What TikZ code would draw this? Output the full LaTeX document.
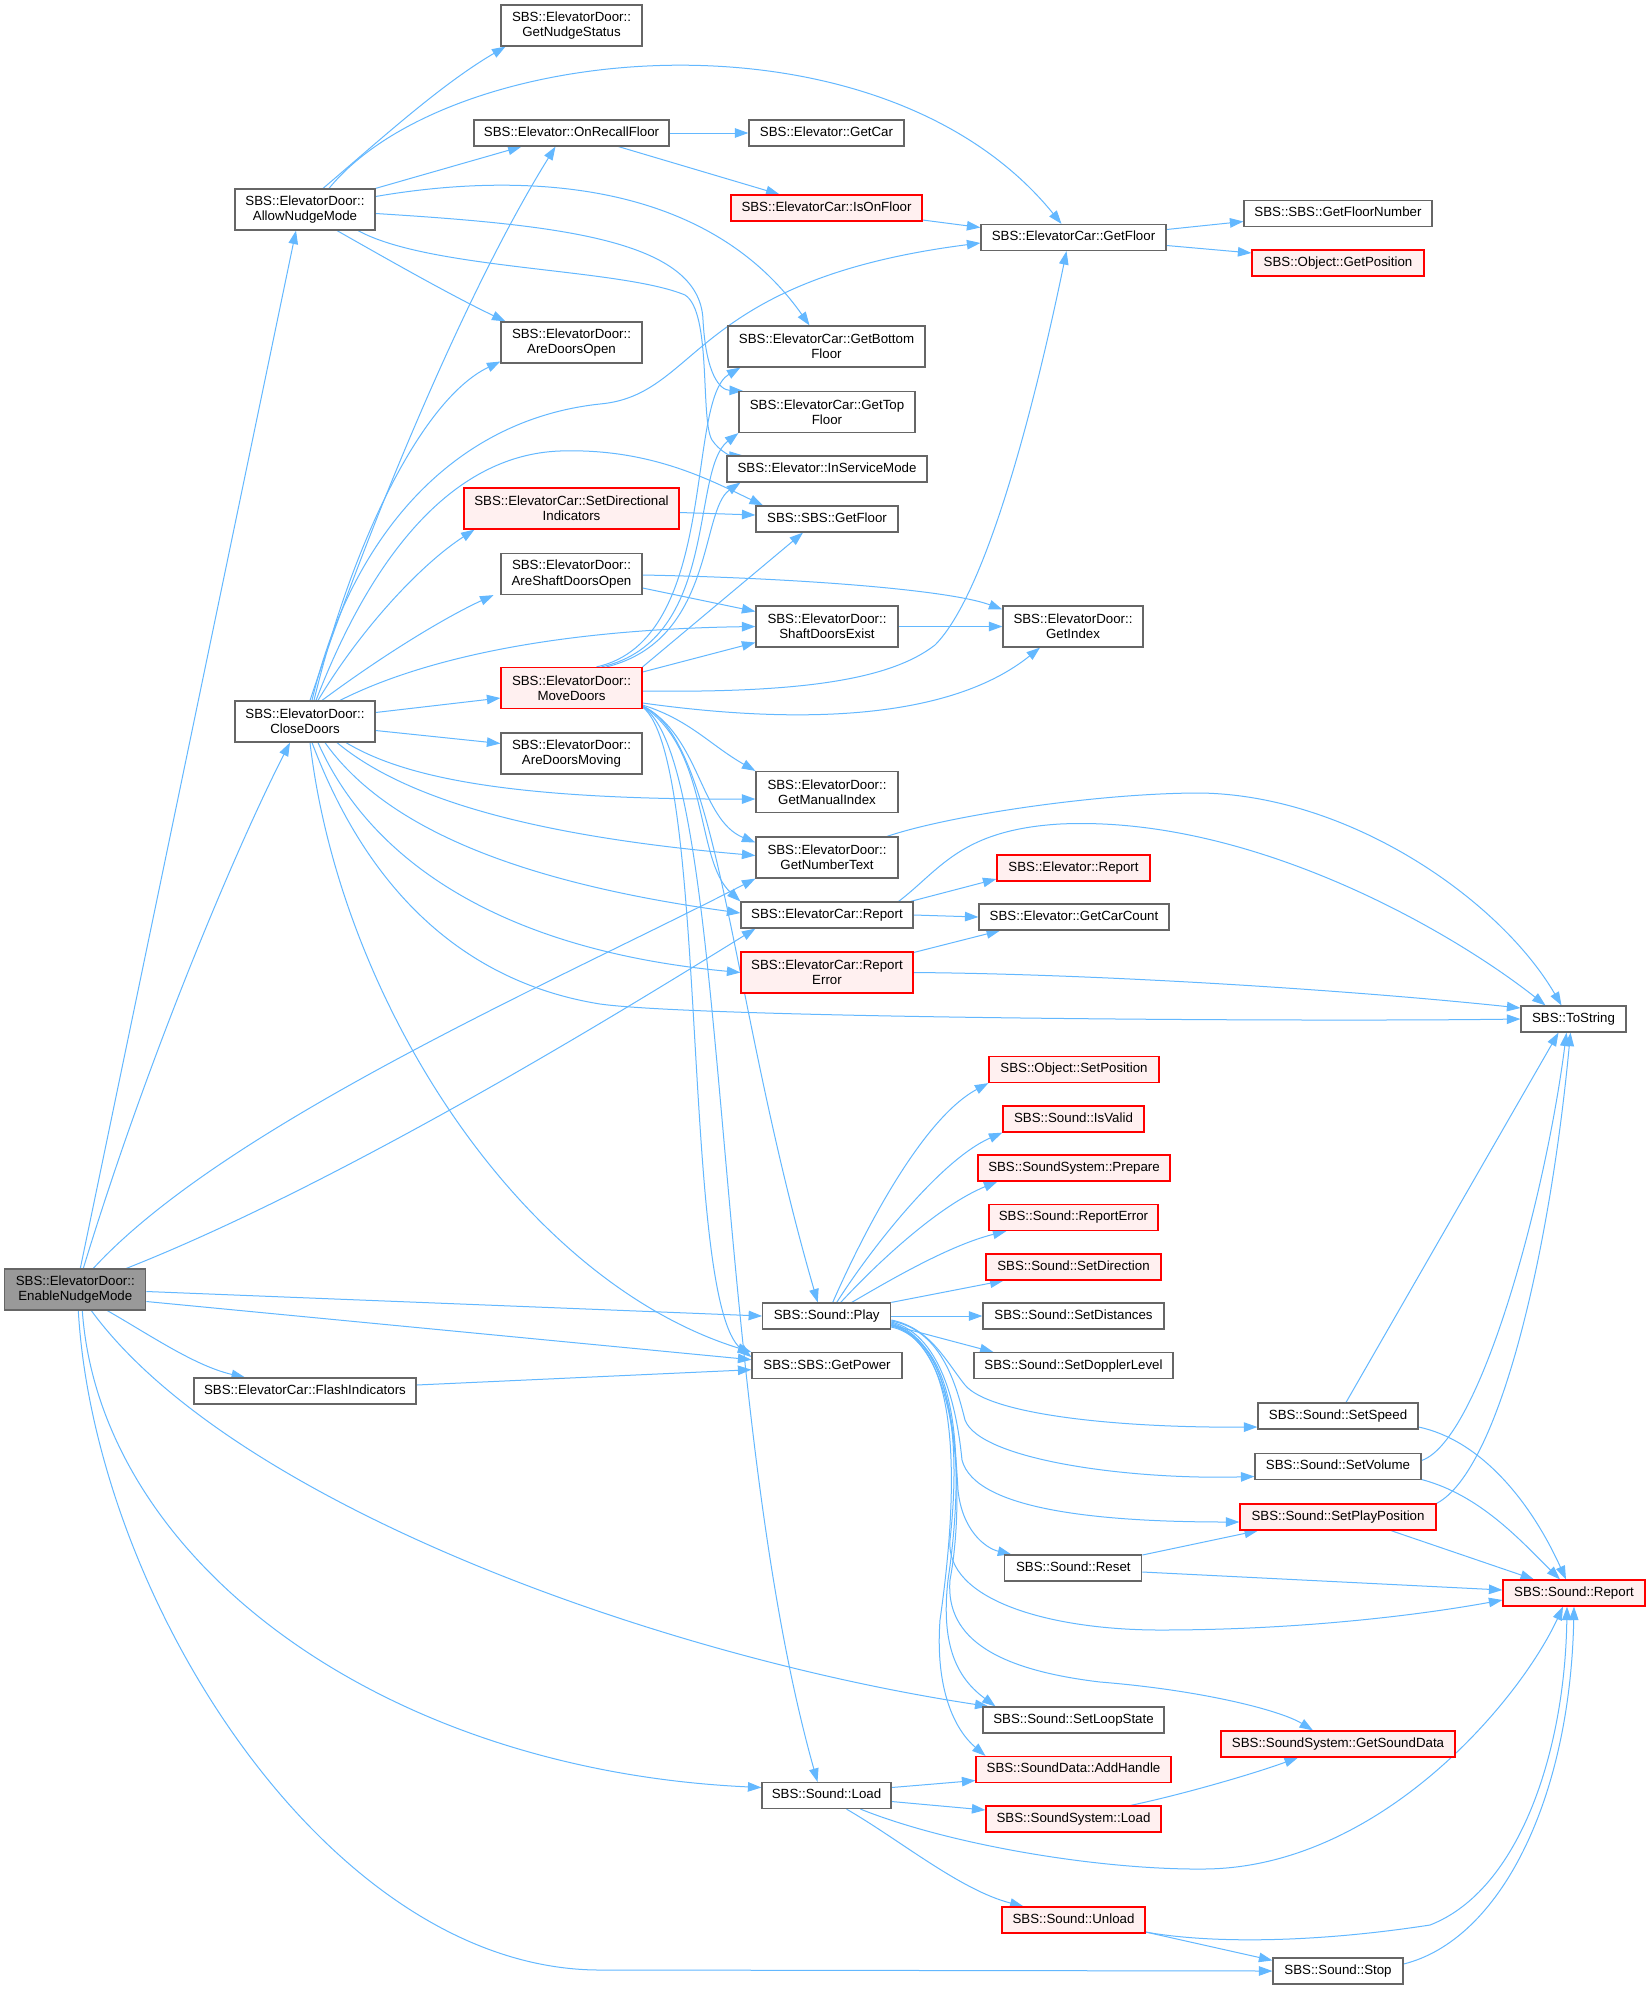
\documentclass[tikz,border=0pt]{standalone}
\usepackage{fontspec}
\setmainfont{Liberation Sans}
\usetikzlibrary{arrows.meta}
\pgfdeclarelayer{bg}
\pgfsetlayers{bg,main}
\definecolor{edgeblue}{HTML}{63B8FF}
\definecolor{boxgray}{HTML}{666666}
\definecolor{redfill}{HTML}{FFF0F0}
\definecolor{rootfill}{HTML}{999999}
\begin{document}
\begin{tikzpicture}[x=1pt,y=-1pt,
  bx/.style={draw=boxgray, line width=1.2pt, fill=white, inner sep=0pt, align=center, font=\fontsize{13.3}{15.2}\selectfont},
  rbx/.style={bx, draw=red, fill=redfill},
  rootbx/.style={bx, fill=rootfill},
  oneln/.style={minimum height=26pt, text height=9.6pt, text depth=2.8pt},
  twoln/.style={minimum height=41pt},
  wd/.style={minimum width=#1pt},
  arr/.style={draw=edgeblue, line width=1pt, -{Triangle[length=13.5pt,width=9.5pt]}},
]
\useasboundingbox (0,0) rectangle (1646,1989);
\begin{pgfonlayer}{bg}
\fill[white] (0,0) rectangle (1646,1989);
\end{pgfonlayer}

\node[bx,twoln,wd=141] (gns) at (571.5,25.5) {SBS::ElevatorDoor::\\GetNudgeStatus};
\node[bx,twoln,wd=140] (anm) at (305,209.5) {SBS::ElevatorDoor::\\AllowNudgeMode};
\node[bx,oneln,wd=195] (orf) at (571.5,133) {SBS::Elevator::OnRecallFloor};
\node[bx,oneln,wd=155] (gcar) at (826.5,133) {SBS::Elevator::GetCar};
\node[rbx,oneln,wd=191] (iof) at (826.5,208) {SBS::ElevatorCar::IsOnFloor};
\node[bx,oneln,wd=185] (ecgf) at (1073.5,237.5) {SBS::ElevatorCar::GetFloor};
\node[bx,oneln,wd=188] (gfn) at (1338,213.5) {SBS::SBS::GetFloorNumber};
\node[rbx,oneln,wd=172] (gpos) at (1338,263) {SBS::Object::GetPosition};
\node[bx,twoln,wd=141] (ado) at (571.5,342.5) {SBS::ElevatorDoor::\\AreDoorsOpen};
\node[bx,twoln,wd=197] (gbf) at (826.5,346.5) {SBS::ElevatorCar::GetBottom\\Floor};
\node[bx,twoln,wd=176] (gtf) at (827,412) {SBS::ElevatorCar::GetTop\\Floor};
\node[bx,oneln,wd=200] (ism) at (827,469) {SBS::Elevator::InServiceMode};
\node[bx,oneln,wd=142] (sgf) at (827,519) {SBS::SBS::GetFloor};
\node[rbx,twoln,wd=215] (sdi) at (571.5,508.5) {SBS::ElevatorCar::SetDirectional\\Indicators};
\node[bx,twoln,wd=141] (asdo) at (571.5,574) {SBS::ElevatorDoor::\\AreShaftDoorsOpen};
\node[bx,twoln,wd=142] (sde) at (827,626.5) {SBS::ElevatorDoor::\\ShaftDoorsExist};
\node[bx,twoln,wd=140] (gidx) at (1073,626.5) {SBS::ElevatorDoor::\\GetIndex};
\node[rbx,twoln,wd=141] (md) at (571.5,688) {SBS::ElevatorDoor::\\MoveDoors};
\node[bx,twoln,wd=140] (cd) at (305,721.5) {SBS::ElevatorDoor::\\CloseDoors};
\node[bx,twoln,wd=141] (adm) at (571.5,753.5) {SBS::ElevatorDoor::\\AreDoorsMoving};
\node[bx,twoln,wd=142] (gmi) at (827,792) {SBS::ElevatorDoor::\\GetManualIndex};
\node[bx,twoln,wd=142] (gnt) at (827,857.5) {SBS::ElevatorDoor::\\GetNumberText};
\node[bx,oneln,wd=172] (ecr) at (827,915) {SBS::ElevatorCar::Report};
\node[rbx,twoln,wd=172] (ecre) at (827,972.5) {SBS::ElevatorCar::Report\\Error};
\node[rbx,oneln,wd=153] (er) at (1073.5,868) {SBS::Elevator::Report};
\node[bx,oneln,wd=190] (gcc) at (1074,917) {SBS::Elevator::GetCarCount};
\node[bx,oneln,wd=105] (ts) at (1573.5,1019) {SBS::ToString};
\node[rbx,oneln,wd=170] (ospos) at (1074,1069.5) {SBS::Object::SetPosition};
\node[rbx,oneln,wd=141] (isv) at (1073.5,1119) {SBS::Sound::IsValid};
\node[rbx,oneln,wd=192] (prep) at (1074,1168) {SBS::SoundSystem::Prepare};
\node[rbx,oneln,wd=169] (sre) at (1073.5,1217.5) {SBS::Sound::ReportError};
\node[rbx,oneln,wd=175] (sdir) at (1073.5,1267) {SBS::Sound::SetDirection};
\node[bx,oneln,wd=181] (sdist) at (1073.5,1316) {SBS::Sound::SetDistances};
\node[bx,oneln,wd=128] (play) at (826.7,1316) {SBS::Sound::Play};
\node[rootbx,twoln,wd=141] (enm) at (75.3,1289.5) {SBS::ElevatorDoor::\\EnableNudgeMode};
\node[bx,oneln,wd=150] (gp) at (827,1365.7) {SBS::SBS::GetPower};
\node[bx,oneln,wd=199] (sdl) at (1073.5,1365.7) {SBS::Sound::SetDopplerLevel};
\node[bx,oneln,wd=222] (fi) at (305,1391) {SBS::ElevatorCar::FlashIndicators};
\node[bx,oneln,wd=160] (ssp) at (1338,1416) {SBS::Sound::SetSpeed};
\node[bx,oneln,wd=166] (svol) at (1338,1466.5) {SBS::Sound::SetVolume};
\node[rbx,oneln,wd=196] (spp) at (1338,1517) {SBS::Sound::SetPlayPosition};
\node[bx,oneln,wd=137] (rst) at (1073.3,1568) {SBS::Sound::Reset};
\node[rbx,oneln,wd=142] (srep) at (1574,1593) {SBS::Sound::Report};
\node[bx,oneln,wd=181] (sls) at (1073.5,1720) {SBS::Sound::SetLoopState};
\node[rbx,oneln,wd=234] (gsd) at (1338,1744) {SBS::SoundSystem::GetSoundData};
\node[rbx,oneln,wd=195] (ah) at (1073.5,1769.5) {SBS::SoundData::AddHandle};
\node[bx,oneln,wd=129] (load) at (826.5,1795.5) {SBS::Sound::Load};
\node[rbx,oneln,wd=175] (ssl) at (1073.5,1819) {SBS::SoundSystem::Load};
\node[rbx,oneln,wd=143] (unl) at (1073.5,1920) {SBS::Sound::Unload};
\node[bx,oneln,wd=130] (stop) at (1338,1971) {SBS::Sound::Stop};

\begin{pgfonlayer}{bg}
% EnableNudgeMode
\draw[arr] ([xshift=5pt]enm.north) -- ([xshift=-9pt]anm.south);
\draw[arr] ([xshift=8pt]enm.north) .. controls (150,1050) and (240,840) .. ([xshift=-15pt]cd.south);
\draw[arr] ([xshift=18pt]enm.north) .. controls (225,1125) and (556,981) .. (gnt.south west);
\draw[arr] ([xshift=51pt]enm.north) .. controls (350,1180) and (640,1000) .. ([xshift=15pt]ecr.south west);
\draw[arr] ([yshift=-2pt]enm.east) -- (play.west);
\draw[arr] ([yshift=-12pt]enm.east) -- ([yshift=6pt]gp.west);
\draw[arr] ([xshift=32pt]enm.south) .. controls (150,1335) and (195,1366) .. ([xshift=-60pt]fi.north);
\draw[arr] ([xshift=16pt]enm.south) .. controls (230,1500) and (650,1655) .. ([xshift=-85pt]sls.north);
\draw[arr] ([xshift=7pt]enm.south) .. controls (100,1560) and (380,1770) .. ([yshift=8pt]load.west);
\draw[arr] ([xshift=3pt]enm.south) .. controls (95,1600) and (330,1970) .. (600,1970) -- (stop.west);
% AllowNudgeMode
\draw[arr] ([xshift=18pt]anm.north) .. controls (380,140) and (440,85) .. ([xshift=-66pt]gns.south);
\draw[arr] ([xshift=24pt]anm.north) .. controls (450,40) and (880,0) .. ([xshift=-12pt]ecgf.north);
\draw[arr] (anm.north east) -- ([xshift=-50pt]orf.south);
\draw[arr] ([yshift=13pt]anm.east) .. controls (500,175) and (700,170) .. ([xshift=-17pt]gbf.north);
\draw[arr] ([yshift=-4pt]anm.east) .. controls (560,225) and (700,240) .. (703,320) .. controls (706,375) and (720,390) .. ([xshift=-84pt]gtf.north);
\draw[arr] ([xshift=53pt]anm.south) .. controls (430,270) and (620,268) .. (685,295) .. controls (712,312) and (700,420) .. (712,440) .. controls (720,452) and (732,456) .. ([xshift=-84pt]ism.north);
\draw[arr] ([xshift=32pt]anm.south) .. controls (380,255) and (450,295) .. ([xshift=-66pt]ado.north);
% OnRecallFloor, IsOnFloor, GetFloor
\draw[arr] (orf) -- (gcar);
\draw[arr] ([xshift=47pt]orf.south) -- ([xshift=-47pt]iof.north);
\draw[arr] ([yshift=-12pt]iof.east) -- ([yshift=10pt]ecgf.west);
\draw[arr] ([yshift=8pt]ecgf.east) -- ([yshift=-8pt]gfn.west);
\draw[arr] ([yshift=-8pt]ecgf.east) -- ([yshift=10pt]gpos.west);
% SetDirectionalIndicators, AreShaftDoorsOpen, ShaftDoorsExist
\draw[arr] ([yshift=-4pt]sdi.east) -- ([yshift=4pt]sgf.west);
\draw[arr] ([yshift=-1pt]asdo.east) .. controls (800,578) and (950,590) .. ([yshift=17pt]gidx.west);
\draw[arr] ([yshift=-14pt]asdo.east) -- ([yshift=15pt]sde.west);
\draw[arr] (sde) -- (gidx);
% MoveDoors
\draw[arr] ([xshift=25pt]md.north) .. controls (720,640) and (685,400) .. ([xshift=13pt]gbf.south west);
\draw[arr] ([xshift=30pt]md.north) .. controls (720,640) and (690,470) .. (gtf.south west);
\draw[arr] ([xshift=35pt]md.north) .. controls (715,640) and (700,510) .. ([xshift=14pt]ism.south west);
\draw[arr] (md.north east) -- ([xshift=-24pt]sgf.south);
\draw[arr] ([yshift=16pt]md.east) -- ([yshift=-16pt]sde.west);
\draw[arr] ([yshift=-3pt]md.east) .. controls (800,693) and (890,680) .. (935,645) .. controls (990,590) and (1040,380) .. ([xshift=-7pt]ecgf.south);
\draw[arr] ([yshift=-15pt]md.east) .. controls (800,725) and (950,720) .. ([xshift=-33pt]gidx.south);
\draw[arr] ([yshift=-17pt]md.east) .. controls (690,720) and (710,745) .. (gmi.north west);
\draw[arr] ([yshift=-18pt]md.east) .. controls (700,735) and (700,820) .. ([yshift=15pt]gnt.west);
\draw[arr] ([yshift=-18pt]md.east) .. controls (710,750) and (695,860) .. (ecr.north west);
\draw[arr] ([yshift=-18pt]md.east) .. controls (720,740) and (730,1000) .. ([xshift=-9pt]play.north);
\draw[arr] ([yshift=-19pt]md.east) .. controls (710,760) and (680,1300) .. ([yshift=-5pt]gp.north west);
\draw[arr] ([yshift=-19pt]md.east) .. controls (730,760) and (710,1400) .. ([xshift=-9pt]load.north);
% CloseDoors
\draw[arr] ([xshift=5pt]cd.north) .. controls (360,550) and (460,300) .. ([xshift=-16pt]orf.south);
\draw[arr] ([xshift=7pt]cd.north) .. controls (350,540) and (450,420) .. (600,404) .. controls (700,395) and (690,280) .. ([yshift=-5.5pt]ecgf.west);
\draw[arr] ([xshift=9pt]cd.north) .. controls (350,550) and (420,400) .. ([yshift=-19pt]ado.west);
\draw[arr] ([xshift=11pt]cd.north) .. controls (370,560) and (450,455) .. (560,451) .. controls (650,448) and (710,480) .. ([xshift=-64pt]sgf.north);
\draw[arr] ([xshift=13pt]cd.north) .. controls (360,630) and (420,565) .. ([xshift=-97pt]sdi.south);
\draw[arr] ([xshift=17pt]cd.north) .. controls (390,650) and (450,615) .. ([xshift=-78pt]asdo.south);
\draw[arr] ([xshift=35pt]cd.north) .. controls (400,670) and (520,630) .. (sde.west);
\draw[arr] ([yshift=9pt]cd.east) -- ([yshift=-10pt]md.west);
\draw[arr] ([yshift=-9pt]cd.east) -- ([yshift=10pt]adm.west);
\draw[arr] ([xshift=41pt]cd.south) .. controls (400,775) and (500,800) .. ([yshift=-7pt]gmi.west);
\draw[arr] ([xshift=32pt]cd.south) .. controls (400,795) and (520,835) .. ([yshift=2pt]gnt.west);
\draw[arr] ([xshift=20pt]cd.south) .. controls (380,820) and (500,880) .. ([yshift=2pt]ecr.west);
\draw[arr] ([xshift=13pt]cd.south) .. controls (370,860) and (500,950) .. (ecre.west);
\draw[arr] ([xshift=7pt]cd.south) .. controls (345,830) and (420,975) .. (600,1004) .. controls (700,1018) and (1300,1022) .. (ts.west);
\draw[arr] ([xshift=5pt]cd.south) .. controls (340,1000) and (520,1280) .. (gp.north west);
% Report family
\draw[arr] ([xshift=-3pt]ecr.north east) -- ([yshift=-11pt]er.west);
\draw[arr] (ecr.east) -- (gcc.west);
\draw[arr] ([xshift=-15pt]ecr.north east) .. controls (940,870) and (960,830) .. (1060,824) .. controls (1250,815) and (1450,930) .. ([xshift=-28pt]ts.north);
\draw[arr] ([xshift=60pt]gnt.north) .. controls (950,815) and (1100,793) .. (1200,793) .. controls (1350,795) and (1500,900) .. ([xshift=-12pt]ts.north);
\draw[arr] ([yshift=20pt]ecre.east) -- ([xshift=-74pt]gcc.south);
\draw[arr] (ecre.east) .. controls (1100,974) and (1350,990) .. ([yshift=11pt]ts.west);
% Play
\draw[arr] ([xshift=6pt]play.north) .. controls (860,1240) and (920,1120) .. (ospos.south west);
\draw[arr] ([xshift=10pt]play.north) .. controls (870,1250) and (940,1160) .. (isv.south west);
\draw[arr] ([xshift=14pt]play.north) .. controls (880,1260) and (940,1205) .. ([xshift=20pt]prep.south west);
\draw[arr] ([xshift=25pt]play.north) .. controls (890,1280) and (950,1245) .. ([xshift=18pt]sre.south west);
\draw[arr] (play.north east) -- ([xshift=-70pt]sdir.south);
\draw[arr] (play) -- (sdist);
\draw[arr] ([yshift=-9pt]play.east) -- ([xshift=-80pt]sdl.north);
\draw[arr] ([yshift=-4pt]play.east) .. controls (930,1328) and (945,1360) .. (965,1385) .. controls (990,1415) and (1120,1428) .. ([yshift=-11pt]ssp.west);
\draw[arr] ([yshift=-5pt]play.east) .. controls (940,1330) and (955,1380) .. (965,1420) .. controls (980,1460) and (1130,1480) .. ([yshift=-10pt]svol.west);
\draw[arr] ([yshift=-6pt]play.east) .. controls (945,1335) and (958,1420) .. (962,1460) .. controls (975,1510) and (1100,1522) .. ([yshift=-5pt]spp.west);
\draw[arr] ([yshift=-7pt]play.east) .. controls (950,1340) and (955,1440) .. (958,1490) .. controls (962,1530) and (985,1548) .. ([xshift=-62pt]rst.north);
\draw[arr] ([yshift=-8pt]play.east) .. controls (955,1345) and (960,1450) .. (950,1540) .. controls (945,1600) and (1050,1630) .. (1160,1630) .. controls (1300,1630) and (1420,1615) .. ([yshift=-7pt]srep.west);
\draw[arr] ([yshift=-9pt]play.east) .. controls (960,1345) and (965,1500) .. (950,1580) .. controls (945,1640) and (1000,1670) .. (1100,1682) .. controls (1200,1690) and (1280,1710) .. ([xshift=-25pt]gsd.north);
\draw[arr] ([yshift=-10pt]play.east) .. controls (970,1345) and (960,1500) .. (948,1580) .. controls (940,1650) and (960,1680) .. ([xshift=-78pt]sls.north);
\draw[arr] ([yshift=-11pt]play.east) .. controls (975,1345) and (950,1550) .. (940,1620) .. controls (935,1690) and (955,1730) .. ([xshift=-88pt]ah.north);
% Sound setters
\draw[arr] ([yshift=13pt]rst.east) -- ([xshift=-80pt]spp.south);
\draw[arr] ([yshift=-4pt]rst.east) -- ([yshift=3pt]srep.west);
\draw[arr] ([yshift=-11pt]ssp.east) .. controls (1480,1440) and (1530,1500) .. ([xshift=-8pt]srep.north);
\draw[arr] ([yshift=-13pt]svol.east) .. controls (1480,1495) and (1520,1540) .. ([xshift=-14pt]srep.north);
\draw[arr] ([xshift=53pt]spp.south) -- ([xshift=-40pt]srep.north);
\draw[arr] ([xshift=8pt]ssp.north) -- ([xshift=-15pt]ts.south);
\draw[arr] ([yshift=6pt]svol.east) .. controls (1480,1440) and (1545,1200) .. ([xshift=-7pt]ts.south);
\draw[arr] (spp.north east) .. controls (1500,1470) and (1550,1250) .. ([xshift=-3pt]ts.south);
% Load, Unload, Stop
\draw[arr] ([yshift=8pt]load.east) -- ([yshift=-11pt]ah.west);
\draw[arr] ([yshift=-6pt]load.east) -- ([yshift=9pt]ssl.west);
\draw[arr] ([xshift=34pt]load.south) .. controls (950,1845) and (1100,1870) .. (1204,1869) .. controls (1380,1868) and (1520,1700) .. ([xshift=-11pt]srep.south);
\draw[arr] ([xshift=20pt]load.south) .. controls (900,1840) and (960,1890) .. ([xshift=-50pt]unl.north);
\draw[arr] ([xshift=57pt]ssl.north) .. controls (1180,1795) and (1250,1775) .. ([xshift=-40pt]gsd.south);
\draw[arr] ([yshift=-12pt]unl.east) .. controls (1200,1942) and (1300,1945) .. (1430,1925) .. controls (1520,1890) and (1565,1750) .. ([xshift=-7pt]srep.south);
\draw[arr] ([yshift=-12pt]unl.east) -- ([yshift=-3pt]stop.north west);
\draw[arr] ([yshift=7pt]stop.east) .. controls (1500,1940) and (1570,1800) .. (srep.south);
% FlashIndicators
\draw[arr] ([yshift=6pt]fi.east) -- ([yshift=-4pt]gp.west);
\end{pgfonlayer}
\end{tikzpicture}
\end{document}
